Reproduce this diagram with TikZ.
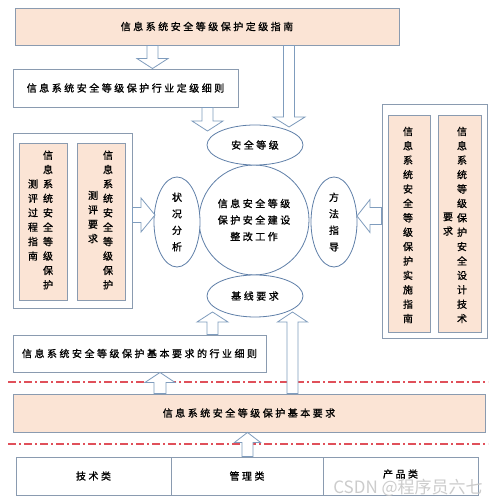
\documentclass[tikz,border=0pt]{standalone}
\usepackage{fontspec}
\usetikzlibrary{shapes.geometric,calc}
\newfontfamily\cjk{Noto Sans CJK SC}[LetterSpace=25,FakeBold=1]
\newfontfamily\cjkv{Noto Sans CJK SC}[FakeBold=1]
\newfontfamily\wmfont{Noto Sans CJK SC}
\definecolor{peach}{HTML}{FBE4D5}
\definecolor{boxline}{HTML}{8A9BB0}
\definecolor{ovalline}{HTML}{5F7FA8}
\definecolor{arrline}{HTML}{7F9CBD}
\definecolor{dashred}{HTML}{E0505A}
% vertical block arrow: #1 from, #2 tip, #3 shaft half width, #4 head half width, #5 head length (signed: + for up, - for down)
\newcommand\vblock[5]{%
  \draw[blockarrow] let \p1=(#1), \p2=(#2) in
    (\x1-#3pt,\y1) -- (\x1-#3pt,\y2-#5pt) -- (\x1-#4pt,\y2-#5pt) -- (\x1,\y2)
    -- (\x1+#4pt,\y2-#5pt) -- (\x1+#3pt,\y2-#5pt) -- (\x1+#3pt,\y1) -- cycle;}
% horizontal block arrow: #5 signed head length (+ for right, - for left)
\newcommand\hblock[5]{%
  \draw[blockarrow] let \p1=(#1), \p2=(#2) in
    (\x1,\y1-#3pt) -- (\x2-#5pt,\y1-#3pt) -- (\x2-#5pt,\y1-#4pt) -- (\x2,\y1)
    -- (\x2-#5pt,\y1+#4pt) -- (\x2-#5pt,\y1+#3pt) -- (\x1,\y1+#3pt) -- cycle;}
\begin{document}
\begin{tikzpicture}[x=1pt,y=1pt,
  box/.style={draw=boxline, line width=0.9pt, fill=white, inner sep=0pt},
  pbox/.style={box, fill=peach},
  oval/.style={ellipse, draw=ovalline, line width=0.8pt, fill=white, inner sep=0pt},
  blockarrow/.style={draw=arrline, line width=0.8pt, fill=white, line join=miter},
  txt/.style={font=\cjk\fontsize{10}{16.5}\selectfont, text=black, align=center},
  vtxt/.style={font=\cjkv\fontsize{10}{14.4}\selectfont, align=center, inner sep=0pt},
  redline/.style={draw=dashred, line width=1.1pt, dash pattern=on 8pt off 3pt on 2pt off 3pt}]
\useasboundingbox (0,0) rectangle (500,503);
\fill[white] (0,0) rectangle (500,503);

% top boxes
\node[pbox, minimum width=384pt, minimum height=37pt] (top) at (207,476.5) {};
\node[txt] (toptxt) at (top.center) {信息系统安全等级保护定级指南};
\node[box, minimum width=225pt, minimum height=38pt] (l2) at (125.5,415) {};
\node[txt] (l2txt) at (l2.center) {信息系统安全等级保护行业定级细则};

% central ellipses
\node[oval, circle, minimum size=110pt] (core) at (254,283) {};
\node[oval, minimum width=96pt, minimum height=40pt] (lvl) at (255,358) {};
\node[oval, minimum width=96pt, minimum height=42pt] (base) at (255,207) {};
\node[txt] (lvltxt) at (lvl.center) {安全等级};
\node[txt] (basetxt) at (base.center) {基线要求};
\node[txt] (coretxt) at (core.center) {信息安全等级\\保护安全建设\\整改工作};
\node[oval, minimum width=46pt, minimum height=90pt] (stat) at (177,281) {};
\node[txt] (stattxt) at (stat.center) {状\\况\\分\\析};
\node[oval, minimum width=46pt, minimum height=90pt] (meth) at (334,281) {};
\node[txt] (methtxt) at (meth.center) {方\\法\\指\\导};

% left group
\node[box, minimum width=119pt, minimum height=175pt] (lg) at (72.5,282.5) {};
\node[pbox, minimum width=48pt, minimum height=157pt] (lg1) at (43,281.5) {};
\node[pbox, minimum width=48pt, minimum height=157pt] (lg2) at (101,281.5) {};
\node[vtxt] (lg1a) at (48,283) {信\\息\\系\\统\\安\\全\\等\\级\\保\\护};
\node[vtxt] (lg1b) at (33,283) {测\\评\\过\\程\\指\\南};
\node[vtxt] (lg2a) at (108,283) {信\\息\\系\\统\\安\\全\\等\\级\\保\\护};
\node[vtxt] (lg2b) at (93,286) {测\\评\\要\\求};

% right group
\node[box, minimum width=105pt, minimum height=234pt] (rg) at (434.5,282) {};
\node[pbox, minimum width=42pt, minimum height=217pt] (rg1) at (409,279.5) {};
\node[pbox, minimum width=43pt, minimum height=217pt] (rg2) at (459.5,279.5) {};
\node[vtxt] (rg1a) at (408,278) {信\\息\\系\\统\\安\\全\\等\\级\\保\\护\\实\\施\\指\\南};
\node[vtxt] (rg2a) at (462,278) {信\\息\\系\\统\\等\\级\\保\\护\\安\\全\\设\\计\\技\\术};
\node[vtxt] (rg2b) at (448,279) {要\\求};

% lower boxes
\node[box, minimum width=253pt, minimum height=37pt] (l4) at (139.5,149.5) {};
\node[txt] (l4txt) at (l4.center) {信息系统安全等级保护基本要求的行业细则};
\node[pbox, minimum width=472pt, minimum height=38pt] (basic) at (249,90) {};
\node[txt] (basictxt) at (basic.center) {信息系统安全等级保护基本要求};
\node[box, minimum width=155pt, minimum height=38pt] (c1) at (93.5,27) {};
\node[box, minimum width=152pt, minimum height=38pt] (c2) at (247,27) {};
\node[box, minimum width=155pt, minimum height=38pt] (c3) at (400.5,27) {};
\node[txt] (c1txt) at (c1.center) {技术类};
\node[txt] (c2txt) at (c2.center) {管理类};
\node[txt] (c3txt) at ([yshift=2pt]c3.center) {产品类};

% red dash-dot separators
\coordinate (r1a) at (8,121); \coordinate (r1b) at (488,121);
\coordinate (r2a) at (8,59);  \coordinate (r2b) at (488,59);
\draw[redline] (r1a) -- (r1b);
\draw[redline] (r2a) -- (r2b);

% block arrows
\coordinate (xa1) at (152.5,0);
\coordinate (xa2) at (289,0);
\coordinate (xa3) at (207.5,0);
\coordinate (ta2) at (289,376);
\coordinate (ta3) at (207.5,372);
\vblock{top.south -| xa1}{l2.north -| xa1}{5.5}{15.5}{-10}
\vblock{top.south -| xa2}{ta2}{5.5}{16}{-10}
\vblock{l2.south -| xa3}{ta3}{5.5}{15.5}{-10}

\coordinate (xa4) at (212.5,0);
\coordinate (xa5) at (292.5,0);
\coordinate (xa6) at (160,0);
\coordinate (xa7) at (247.5,0);
\coordinate (ta4) at (212.5,191);
\coordinate (ta5) at (292.5,191);
\vblock{l4.north -| xa4}{ta4}{5.5}{15.5}{10}
\vblock{basic.north -| xa5}{ta5}{5.5}{15}{10}
\vblock{basic.north -| xa6}{l4.south -| xa6}{6}{15}{10}
\vblock{c2.north -| xa7}{basic.south -| xa7}{5.5}{13}{10}

\coordinate (yl) at (0,288);
\coordinate (yr) at (0,287);
\coordinate (tl) at (155,288);
\coordinate (tr) at (357,287);
\hblock{lg.east |- yl}{tl}{7.5}{17}{14}
\hblock{rg.west |- yr}{tr}{8.5}{16.5}{-13}

% watermark
\node[font=\wmfont\fontsize{17}{17}\selectfont, text=black!22, opacity=0.9, inner sep=0pt] (wm) at (408,15) {CSDN @程序员六七};
\end{tikzpicture}
\end{document}
